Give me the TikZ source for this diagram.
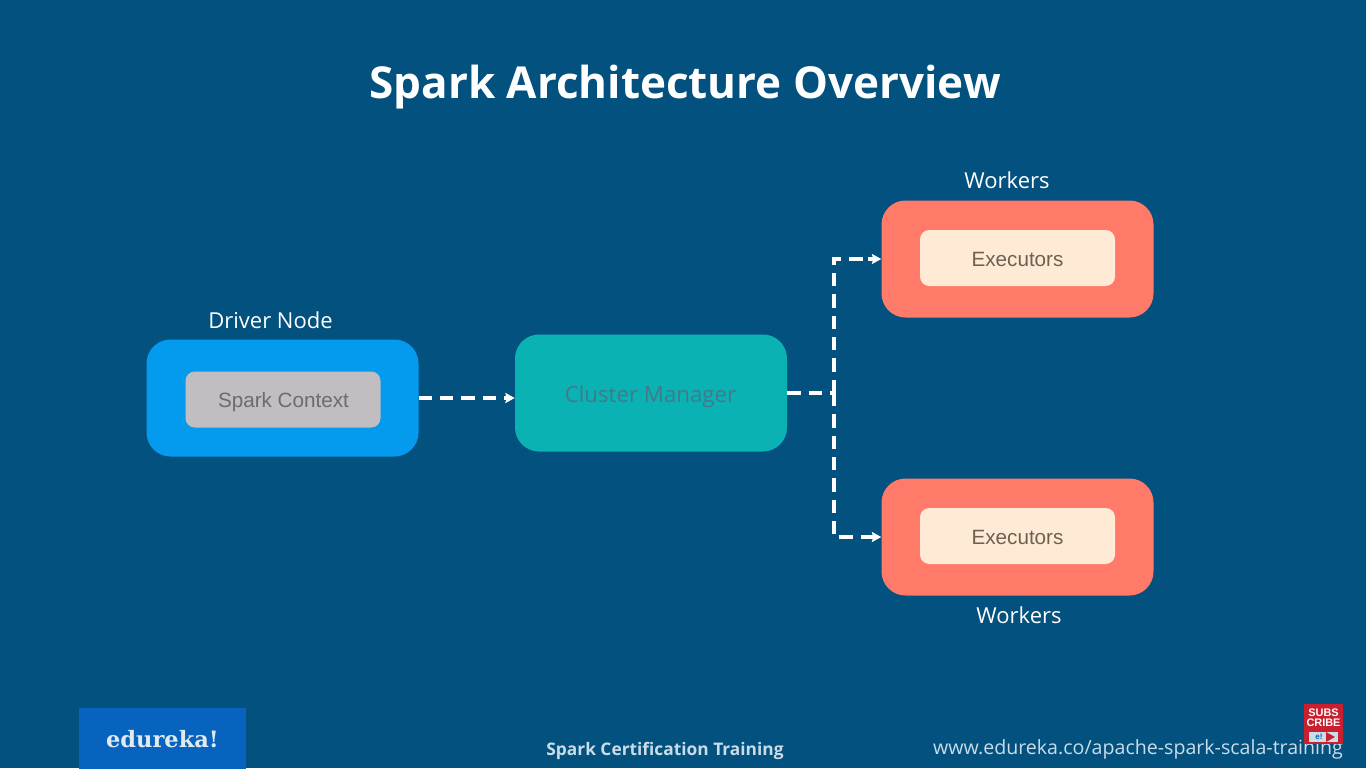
\documentclass[tikz,border=0pt]{standalone}
\usepackage{fontspec}
\setmainfont{Open Sans}
\newfontfamily\arialf{Liberation Sans}
\newfontfamily\slabf{DejaVu Serif}
\usetikzlibrary{arrows.meta}
\definecolor{bgblue}{HTML}{03517F}
\definecolor{driverblue}{HTML}{049BEE}
\definecolor{ctxgrey}{HTML}{C0BEC0}
\definecolor{tealbox}{HTML}{0BB2B4}
\definecolor{salmon}{HTML}{FF7A68}
\definecolor{cream}{HTML}{FFEAD5}
\definecolor{logoblue}{HTML}{0763BE}
\definecolor{subred}{HTML}{C8202F}
\definecolor{paleblue}{HTML}{C9DCE8}
\definecolor{cmtext}{HTML}{437A8A}
\definecolor{ctxtext}{HTML}{6C6C6E}
\definecolor{exectext}{HTML}{6E6152}
\tikzset{
 x=0.75pt,y=-0.75pt,
 outerbox/.style={rounded corners=18pt,minimum width=204pt,minimum height=87.75pt,inner sep=0pt},
 innerbox/.style={rounded corners=7pt,minimum width=146.25pt,minimum height=42pt,inner sep=0pt,font=\arialf\fontsize{15.5}{18}\selectfont},
 caption/.style={text=white,inner sep=0pt,font=\fontsize{16.5}{20}\selectfont},
 flow/.style={draw=white,line width=2.4pt,dash pattern=on 10pt off 6pt},
 tip/.style={-{Stealth[length=7pt,width=7.5pt,inset=1pt]},draw=white,line width=2.4pt},
}
\begin{document}
\begin{tikzpicture}
\useasboundingbox (0,0) rectangle (1366,768);
\fill[bgblue] (0,0) rectangle (1366,768);

\node[text=white,inner sep=0pt,font=\bfseries\fontsize{33}{40}\selectfont] (title) at (685,87) {Spark Architecture Overview};

\node[outerbox,fill=driverblue] (driver) at (282.5,398) {};
\node[innerbox,fill=ctxgrey,text=ctxtext] (ctx) at (283,399.5) {};
\node[text=ctxtext,inner sep=0pt,font=\arialf\fontsize{15.5}{18}\selectfont] (ctxlab) at (283.5,402) {Spark Context};
\node[caption] (driverlab) at (270.5,320.5) {Driver Node};

\node[outerbox,fill=tealbox] (cm) at (651,393) {};
\node[text=cmtext,inner sep=0pt,font=\fontsize{16.7}{20}\selectfont] (cmlab) at (650.5,397) {Cluster Manager};

\node[outerbox,fill=salmon] (w1) at (1017.5,259) {};
\node[innerbox,fill=cream] (e1) at (1017.5,258) {};
\node[text=exectext,inner sep=0pt,font=\arialf\fontsize{15.5}{18}\selectfont] (e1lab) at (1017.5,259.5) {Executors};
\node[caption] (w1lab) at (1007,180) {Workers};

\node[outerbox,fill=salmon] (w2) at (1017.5,537) {};
\node[innerbox,fill=cream] (e2) at (1017.5,536) {};
\node[text=exectext,inner sep=0pt,font=\arialf\fontsize{15.5}{18}\selectfont] (e2lab) at (1017.5,537.5) {Executors};
\node[caption] (w2lab) at (1019,615.5) {Workers};

\coordinate (junction) at (834,393);
\coordinate (dend) at (505,398);
\coordinate (tstart) at (868,259);
\coordinate (bstart) at (868,537);
\draw[flow] (driver.east) -- (dend);
\draw[tip] (dend) -- (cm.west |- dend);
\draw[flow] (cm.east) -- (junction);
\draw[flow] (junction) -- (junction |- tstart) -- (tstart);
\draw[flow] (junction) -- (junction |- bstart) -- (bstart);
\draw[tip] (tstart) -- (w1.west);
\draw[tip] (bstart) -- (w2.west);

\node[fill=logoblue,minimum width=125.25pt,minimum height=45.75pt,inner sep=0pt] (logo) at (162,738) {};
\node[text=paleblue!60!white,inner sep=0pt,font=\slabf\bfseries\fontsize{16.9}{20}\selectfont] (logotext) at (162.5,739) {edureka!};

\node[text=paleblue,inner sep=0pt,font=\bfseries\fontsize{13}{16}\selectfont] (course) at (665,751) {Spark Certification Training};
\node[text=paleblue,inner sep=0pt,font=\fontsize{14.7}{18}\selectfont] (url) at (1138,749) {www.edureka.co/apache-spark-scala-training};

\node[fill=subred,minimum width=29.25pt,minimum height=30pt,inner sep=0pt] (sub) at (1323.5,724) {};
\node[text=white,inner sep=0pt,align=center,font=\arialf\bfseries\fontsize{8.2}{7.6}\selectfont] (subtext) at (1323.5,717.5) {SUBS\\CRIBE};
\node[fill=paleblue,minimum width=21.75pt,minimum height=7.5pt,inner sep=0pt] (subbtn) at (1323.5,737) {};
\node[text=logoblue,inner sep=0pt,font=\arialf\bfseries\fontsize{6}{6}\selectfont] (subel) at (1319,737) {e!};
\fill[subred] (1326,732) -- (1335,737) -- (1326,742) -- cycle;
\end{tikzpicture}
\end{document}
